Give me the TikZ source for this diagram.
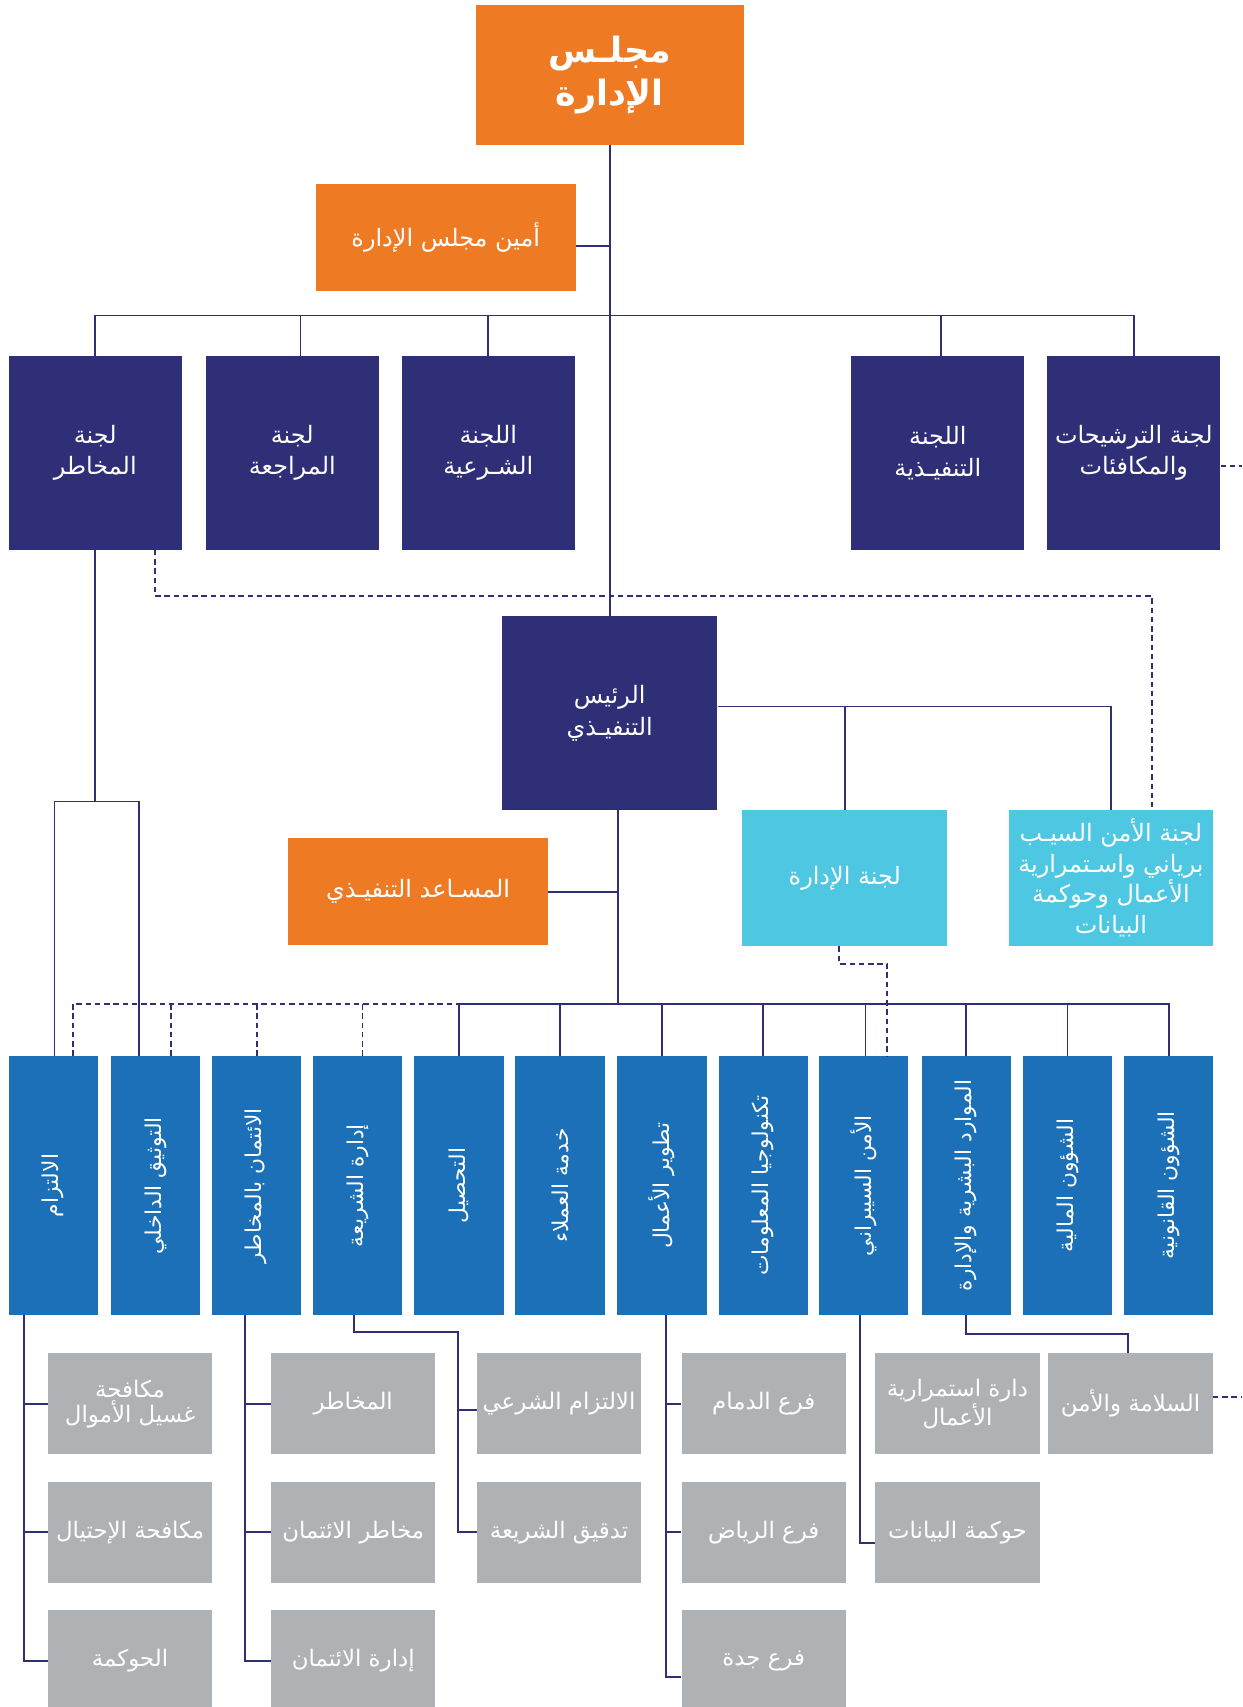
\documentclass[tikz,border=0pt]{standalone}
\usepackage{fontspec}
\usepackage{graphicx}
\newfontfamily\arabicfont[Script=Arabic]{DejaVu Sans}
\TeXXeTstate=1
\newcommand\ar[1]{\beginR #1\endR}
\definecolor{boardorange}{HTML}{EE7B24}
\definecolor{navyblue}{HTML}{2F2F78}
\definecolor{skyblue}{HTML}{4EC7E3}
\definecolor{deptblue}{HTML}{1B70B7}
\definecolor{subgray}{HTML}{AFB2B5}
\begin{document}
\begin{tikzpicture}[x=1pt,y=-1pt,
  box/.style={rectangle,inner sep=0pt,text=white,align=center,font=\arabicfont\fontsize{22}{29}\selectfont},
  orangebox/.style={box,fill=boardorange},
  navybox/.style={box,fill=navyblue,minimum width=159pt,minimum height=178pt},
  cyanbox/.style={box,fill=skyblue,minimum height=125pt},
  deptbox/.style={box,fill=deptblue,minimum width=82pt,minimum height=238pt,font=\arabicfont\fontsize{20}{24}\selectfont},
  subbox/.style={box,fill=subgray,minimum width=151pt,minimum height=93pt,font=\arabicfont\fontsize{21}{23}\selectfont},
  link/.style={draw=navyblue,line width=1.7pt},
  dashlink/.style={link,dash pattern=on 5pt off 3.5pt}]
\useasboundingbox (0,0) rectangle (1141,1568);
% board and committees
\node[orangebox,minimum width=246pt,minimum height=128pt,font=\arabicfont\bfseries\fontsize{32}{40}\selectfont] (board) at (560,69) {\ar{مجلـس}\\\ar{الإدارة}};
\node[orangebox,minimum width=239pt,minimum height=98pt] (sec) at (409.5,218) {\ar{أمين مجلس الإدارة}};
\node[navybox] (riskc) at (87.5,416) {\ar{لجنة}\\\ar{المخاطر}};
\node[navybox] (auditc) at (268.5,416) {\ar{لجنة}\\\ar{المراجعة}};
\node[navybox] (shariac) at (448.5,416) {\ar{اللجنة}\\\ar{الشـرعية}};
\node[navybox] (execc) at (861.5,416) {\ar{اللجنة}\\\ar{التنفيـذية}};
\node[navybox] (nominc) at (1041.5,416) {\ar{لجنة الترشيحات}\\\ar{والمكافئات}};
% executive level
\node[navybox,minimum width=198pt] (ceo) at (560,655) {\ar{الرئيس}\\\ar{التنفيـذي}};
\node[cyanbox,minimum width=188pt] (mgmtc) at (776,806.5) {\ar{لجنة الإدارة}};
\node[cyanbox,minimum width=187pt,font=\arabicfont\fontsize{22}{28}\selectfont] (cyberc) at (1020.5,806.5)
  {\ar{لجنة الأمن السيـب}\\\ar{برياني واسـتمرارية}\\\ar{الأعمال وحوكمة}\\\ar{البيانات}};
\node[orangebox,minimum width=238pt,minimum height=98pt] (asst) at (384,819) {\ar{المسـاعد التنفيـذي}};
% departments
\foreach \nm/\xx/\txt in {comp/49/الالتزام,intaudit/143/التوثيق الداخلي,credrisk/235.5/الائتمان بالمخاطر,
  shariam/328.5/إدارة الشريعة,collect/421.5/التحصيل,custsvc/514.5/خدمة العملاء,bizdev/608/تطوير الأعمال,
  itech/701/تكنولوجيا المعلومات,cybsec/793.5/الأمن السيبراني,hr/887.5/الموارد البشرية والإدارة,
  finance/980.5/الشؤون المالية,legal/1073.5/الشؤون القانونية}
  \node[deptbox] (\nm) at (\xx,1089) {\rotatebox{90}{\ar{\txt}}};
% sections
\node[subbox] (aml) at (119.5,1289.5) {\ar{مكافحة}\\\ar{غسيل الأموال}};
\node[subbox] (fraud) at (119.5,1407.5) {\ar{مكافحة الإحتيال}};
\node[subbox] (gov) at (119.5,1525.5) {\ar{الحوكمة}};
\node[subbox] (risks) at (324.5,1289.5) {\ar{المخاطر}};
\node[subbox] (credrisks) at (324.5,1407.5) {\ar{مخاطر الائتمان}};
\node[subbox] (credmgmt) at (324.5,1525.5) {\ar{إدارة الائتمان}};
\node[subbox] (shcomp) at (513.5,1289.5) {\ar{الالتزام الشرعي}};
\node[subbox] (shaudit) at (513.5,1407.5) {\ar{تدقيق الشريعة}};
\node[subbox] (dammam) at (701.5,1289.5) {\ar{فرع الدمام}};
\node[subbox] (riyadh) at (701.5,1407.5) {\ar{فرع الرياض}};
\node[subbox] (jeddah) at (701.5,1525.5) {\ar{فرع جدة}};
\node[subbox] (bcm) at (879.5,1289.5) {\ar{دارة استمرارية}\\\ar{الأعمال}};
\node[subbox] (datagov) at (879.5,1407.5) {\ar{حوكمة البيانات}};
\node[subbox] (safety) at (1038.5,1289.5) {\ar{السلامة والأمن}};
% top links
\draw[link] (board.south) -- (ceo.north);
\draw[link] (sec.east) ++(0,8) coordinate (secR) -- (secR -| board.south);
\draw[link] (riskc.north) -- ++(0,-37) -| (nominc.north);
\foreach \c/\s in {auditc/7.5,shariac/0,execc/2.5}
  \draw[link] ([xshift=\s pt]\c.north) -- ++(0,-37);
\coordinate (nomout) at (1141,428);
\draw[dashlink] (nomout -| nominc.east) -- (nomout);
\draw[dashlink] ([xshift=54.5pt]riskc.south) -- ++(0,42) -| ([xshift=37.5pt]cyberc.north);
\draw[link] (riskc.south) -- ++(0,231) coordinate (rsplit);
\draw[link] ([xshift=1pt]comp.north) |- (rsplit) -| ([xshift=-15pt]intaudit.north);
% ceo links
\draw[link] (ceo.east) ++(0,-6) coordinate (ceoR) -| (cyberc.north);
\draw[link] (mgmtc.north) -- (mgmtc.north |- ceoR);
\coordinate (deptbus) at (568,922);
\draw[link] ([xshift=8pt]ceo.south) -- (deptbus);
\draw[link] (asst.east) -- (asst.east -| deptbus);
\draw[link] (collect.north) |- (deptbus) -| (legal.north);
\foreach \d/\s in {custsvc/0,bizdev/0,itech/0,cybsec/1.5,hr/0,finance/0}
  \draw[link] ([xshift=\s pt]\d.north) -- ++(0,-48);
\draw[dashlink] ([xshift=18pt]comp.north) |- (deptbus -| collect.north);
\foreach \d/\s in {intaudit/14,credrisk/0.5,shariam/4.5}
  \draw[dashlink] ([xshift=\s pt]\d.north) -- ++(0,-48);
\draw[dashlink] ([xshift=-5pt]mgmtc.south) -- ++(0,16) -| ([xshift=21.5pt]cybsec.north);
% section links
\draw[link] ([xshift=-27pt]comp.south) coordinate (compB) |- (gov.west);
\foreach \g in {aml,fraud} \draw[link] (\g.west) -- (\g.west -| compB);
\draw[link] ([xshift=-10.5pt]credrisk.south) coordinate (credB) |- (credmgmt.west);
\foreach \g in {risks,credrisks} \draw[link] (\g.west) -- (\g.west -| credB);
\draw[link] ([xshift=-3.5pt]shariam.south) -- ++(0,15) -| ([xshift=-17pt]shaudit.west) -- (shaudit.west);
\draw[link] ([yshift=-6pt]shcomp.west) -- ++(-17,0);
\draw[link] ([xshift=4pt]bizdev.south) coordinate (bizB) |- ([yshift=-15pt]jeddah.west);
\foreach \g in {dammam,riyadh} \draw[link] (\g.west) -- (\g.west -| bizB);
\draw[link] ([xshift=-3.5pt]cybsec.south) |- ([yshift=-10pt]datagov.west);
\draw[link] (hr.south) -- ++(0,17) -| ([xshift=-2pt]safety.north);
\coordinate (safout) at (1141,1283);
\draw[dashlink] (safout -| safety.east) -- (safout);
\end{tikzpicture}
\end{document}
